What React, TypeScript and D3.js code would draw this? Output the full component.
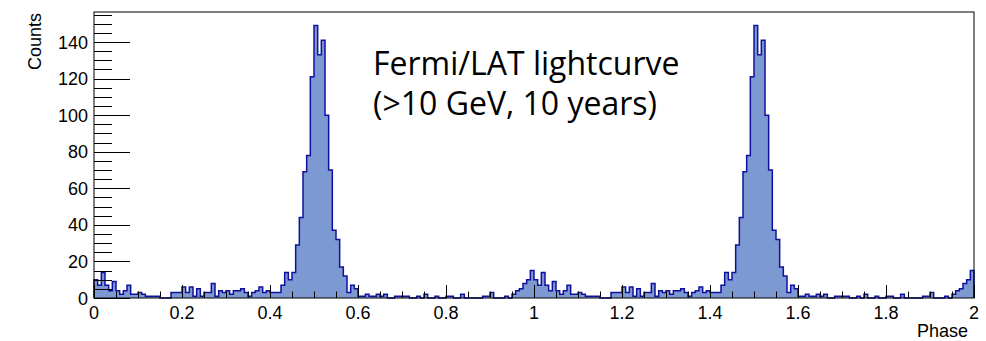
import React, { useEffect, useRef } from "react";
import * as d3 from "d3";

// Counts per phase bin (120 bins per rotation), first rotation (phase 0-1)
const countsCycle1: number[] = [
  10, 7, 14, 7, 4, 9, 4, 2, 4, 7,
  2, 2, 3, 2, 1, 1, 1, 1, 0, 0,
  0, 3, 3, 3, 6, 3, 6, 1, 5, 1,
  3, 3, 8, 1, 4, 3, 4, 2, 4, 4,
  5, 3, 1, 3, 4, 6, 3, 4, 3, 3,
  3, 7, 14, 10, 14, 29, 44, 69, 78, 121,
  149, 133, 141, 100, 70, 37, 32, 17, 12, 3,
  7, 5, 1, 1, 2, 1, 1, 2, 1, 2,
  0, 0, 1, 1, 1, 1, 0, 0, 1, 0,
  2, 0, 0, 1, 0, 0, 1, 1, 0, 0,
  2, 0, 0, 0, 0, 0, 1, 1, 3, 0,
  0, 0, 1, 0, 2, 4, 5, 8, 10, 15,
];
// Second rotation (phase 1-2), the same lightcurve repeated
const countsCycle2: number[] = [
  10, 7, 14, 7, 4, 9, 4, 2, 4, 7,
  2, 2, 3, 2, 1, 1, 1, 1, 0, 0,
  0, 3, 3, 3, 6, 3, 6, 1, 5, 1,
  3, 3, 8, 1, 4, 3, 4, 2, 4, 4,
  5, 3, 1, 3, 4, 6, 3, 4, 3, 3,
  3, 7, 14, 10, 14, 29, 44, 69, 78, 121,
  149, 133, 141, 100, 70, 37, 32, 17, 12, 3,
  7, 5, 1, 1, 2, 1, 1, 2, 1, 2,
  0, 0, 1, 1, 1, 1, 0, 0, 1, 0,
  2, 0, 0, 1, 0, 0, 1, 1, 0, 0,
  2, 0, 0, 0, 0, 0, 1, 1, 3, 0,
  0, 0, 1, 0, 2, 4, 5, 8, 10, 15,
];

const phaseDomain: [number, number] = [0, 2];
const xMajorTicks = [0, 0.2, 0.4, 0.6, 0.8, 1, 1.2, 1.4, 1.6, 1.8, 2];
const xTickLabels = ["0", "0.2", "0.4", "0.6", "0.8", "1", "1.2", "1.4", "1.6", "1.8", "2"];
const yMajorTicks = [0, 20, 40, 60, 80, 100, 120, 140];
const yTickLabels = ["0", "20", "40", "60", "80", "100", "120", "140"];
const xTitle = "Phase";
const yTitle = "Counts";
const noteLines = ["Fermi/LAT lightcurve", "(>10 GeV, 10 years)"];

const W = 986;
const H = 341;
const L = 94;
const R = 974;
const T = 12;
const B = 298;

export default function App() {
  const ref = useRef<SVGSVGElement | null>(null);

  useEffect(() => {
    const svg = d3.select(ref.current);
    svg.selectAll("*").remove();

    const counts = countsCycle1.concat(countsCycle2);
    const n = counts.length;
    const w = (phaseDomain[1] - phaseDomain[0]) / n;
    const yMax = (d3.max(counts) as number) * 1.05;

    const x = d3.scaleLinear().domain(phaseDomain).range([L, R]);
    const y = d3.scaleLinear().domain([0, yMax]).range([B, T]);

    const pts: [number, number][] = counts.map((c, i) => [phaseDomain[0] + i * w, c]);
    pts.push([phaseDomain[1], counts[n - 1]]);

    const area = d3
      .area<[number, number]>()
      .x((d) => x(d[0]))
      .y0(y(0))
      .y1((d) => y(d[1]))
      .curve(d3.curveStepAfter);

    svg.append("path").attr("d", area(pts) as string).attr("fill", "#7d99d1");

    const lineStep = d3
      .line<[number, number]>()
      .x((d) => x(d[0]))
      .y((d) => y(d[1]));
    const stepPts: [number, number][] = [[phaseDomain[0], 0]];
    counts.forEach((c, i) => {
      stepPts.push([phaseDomain[0] + i * w, c]);
      stepPts.push([phaseDomain[0] + (i + 1) * w, c]);
    });
    stepPts.push([phaseDomain[1], 0]);
    svg
      .append("path")
      .attr("d", lineStep(stepPts) as string)
      .attr("fill", "none")
      .attr("stroke", "#10109e")
      .attr("stroke-width", 1.5)
      .attr("stroke-linejoin", "miter");

    const g = svg.append("g").attr("stroke", "#000").attr("stroke-width", 1).attr("fill", "none");
    g.append("rect")
      .attr("x", L)
      .attr("y", T)
      .attr("width", R - L)
      .attr("height", B - T);

    const xMinor = d3.range(0, 41).map((i) => i * 0.05);
    xMinor.forEach((v) => {
      const isMajor = Math.abs(v / 0.2 - Math.round(v / 0.2)) < 1e-6;
      const px = Math.round(x(v)) + 0.5;
      g.append("line")
        .attr("x1", px)
        .attr("x2", px)
        .attr("y1", B)
        .attr("y2", B - (isMajor ? 13 : 6.5));
    });
    const yMinor = d3.range(0, Math.floor(yMax / 5) + 1).map((i) => i * 5);
    yMinor.forEach((v) => {
      const isMajor = v % 20 === 0;
      const py = Math.round(y(v)) + 0.5;
      g.append("line")
        .attr("x1", L)
        .attr("x2", L + (isMajor ? 36 : 18))
        .attr("y1", py)
        .attr("y2", py);
    });

    const font = "'Liberation Sans', Arial, Helvetica, sans-serif";
    const lab = svg.append("g").attr("font-family", font).attr("font-size", 18).attr("fill", "#000");
    xMajorTicks.forEach((v, i) => {
      lab.append("text")
        .attr("x", x(v))
        .attr("y", 319)
        .attr("text-anchor", "middle")
        .text(xTickLabels[i]);
    });
    yMajorTicks.forEach((v, i) => {
      lab.append("text")
        .attr("x", L - 6)
        .attr("y", y(v) + 6.5)
        .attr("text-anchor", "end")
        .text(yTickLabels[i]);
    });
    lab.append("text")
      .attr("x", R - 6)
      .attr("y", 337)
      .attr("text-anchor", "end")
      .text(xTitle);
    lab.append("text")
      .attr("transform", `translate(41, ${T + 1}) rotate(-90)`)
      .attr("text-anchor", "end")
      .text(yTitle);

    const note = svg
      .append("g")
      .attr("font-family", "'Open Sans', sans-serif")
      .attr("font-size", 32)
      .attr("fill", "#000");
    noteLines.forEach((t, i) => {
      note.append("text").attr("x", 373).attr("y", 75 + i * 40).text(t);
    });
  }, []);

  return (
    <svg
      ref={ref}
      width={W}
      height={H}
      style={{ position: "absolute", left: 0, top: 0, background: "#fff" }}
    />
  );
}
